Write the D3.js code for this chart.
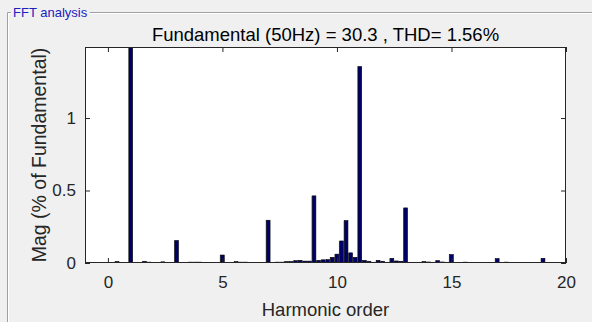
<!DOCTYPE html>
<html>
<head>
<meta charset="utf-8">
<script src="https://cdn.jsdelivr.net/npm/d3@7"></script>
<style>
  html, body { margin: 0; padding: 0; background: #f0f0f0; }
  svg { display: block; }
  text { font-family: "Liberation Sans", Arial, Helvetica, sans-serif; }
</style>
</head>
<body>
<svg id="chart" width="592" height="322"></svg>
<script>
// ---- data ----
const panelTitle = "FFT analysis";
const chartTitle = "Fundamental (50Hz) = 30.3 , THD= 1.56%";
const xLabel = "Harmonic order";
const yLabel = "Mag (% of Fundamental)";
const harmonicOrders = [
  0.0, 0.2, 0.4, 0.6, 0.8, 1.0, 1.2, 1.4, 1.6, 1.8,
  2.0, 2.2, 2.4, 2.6, 2.8, 3.0, 3.2, 3.4, 3.6, 3.8,
  4.0, 4.2, 4.4, 4.6, 4.8, 5.0, 5.2, 5.4, 5.6, 5.8,
  6.0, 6.2, 6.4, 6.6, 6.8, 7.0, 7.2, 7.4, 7.6, 7.8,
  8.0, 8.2, 8.4, 8.6, 8.8, 9.0, 9.2, 9.4, 9.6, 9.8,
  10.0, 10.2, 10.4, 10.6, 10.8, 11.0, 11.2, 11.4, 11.6, 11.8,
  12.0, 12.2, 12.4, 12.6, 12.8, 13.0, 13.2, 13.4, 13.6, 13.8,
  14.0, 14.2, 14.4, 14.6, 14.8, 15.0, 15.2, 15.4, 15.6, 15.8,
  16.0, 16.2, 16.4, 16.6, 16.8, 17.0, 17.2, 17.4, 17.6, 17.8,
  18.0, 18.2, 18.4, 18.6, 18.8, 19.0, 19.2, 19.4, 19.6, 19.8,
  20.0
];
const magnitudes = [
  0.000, 0.004, 0.010, 0.004, 0.002, 100, 0.003, 0.003, 0.012, 0.006,
  0.003, 0.003, 0.008, 0.004, 0.004, 0.155, 0.003, 0.004, 0.006, 0.006,
  0.006, 0.004, 0.004, 0.004, 0.004, 0.055, 0.002, 0.004, 0.009, 0.006,
  0.006, 0.004, 0.004, 0.004, 0.004, 0.295, 0.004, 0.006, 0.006, 0.010,
  0.010, 0.016, 0.018, 0.013, 0.013, 0.463, 0.018, 0.022, 0.023, 0.039,
  0.061, 0.152, 0.292, 0.070, 0.039, 1.355, 0.018, 0.012, 0.005, 0.018,
  0.012, 0.002, 0.032, 0.014, 0.012, 0.380, 0.005, 0.005, 0.005, 0.010,
  0.007, 0.005, 0.016, 0.007, 0.005, 0.058, 0.004, 0.004, 0.006, 0.004,
  0.004, 0.004, 0.004, 0.004, 0.004, 0.030, 0.004, 0.006, 0.004, 0.004,
  0.004, 0.004, 0.004, 0.004, 0.004, 0.032, 0.004, 0.004, 0.004, 0.001,
  0.000
];
const xTicks = [0, 5, 10, 15, 20];
const yTicks = [0, 0.5, 1];
const xDomain = [-1, 20];
const yDomain = [0, 1.49];

// ---- layout ----
const svg = d3.select("#chart");
const W = 592, H = 322;
const plot = { left: 85, right: 566, top: 47, bottom: 263 };

svg.append("rect").attr("width", W).attr("height", H).attr("fill", "#f0f0f0");

// panel border (etched)
const border = svg.append("g");
border.append("path")
  .attr("d", `M7.5,${H} V12.5 H${W}`)
  .attr("fill", "none").attr("stroke", "#a0a0a0").attr("stroke-width", 1);
border.append("path")
  .attr("d", `M8.5,${H} V13.5 H${W}`)
  .attr("fill", "none").attr("stroke", "#ffffff").attr("stroke-width", 1);
const pt = svg.append("text")
  .attr("x", 13).attr("y", 17)
  .attr("font-size", 13).attr("fill", "#2020c0")
  .text(panelTitle);
const bb = pt.node().getBBox();
svg.insert("rect", "text")
  .attr("x", bb.x - 2).attr("y", 8).attr("width", bb.width + 4).attr("height", 8)
  .attr("fill", "#f0f0f0");

const x = d3.scaleLinear().domain(xDomain).range([plot.left, plot.right]);
const y = d3.scaleLinear().domain(yDomain).range([plot.bottom, plot.top]);

// plot background
svg.append("rect")
  .attr("x", plot.left).attr("y", plot.top)
  .attr("width", plot.right - plot.left).attr("height", plot.bottom - plot.top)
  .attr("fill", "#ffffff");

svg.append("clipPath").attr("id", "clip")
  .append("rect")
  .attr("x", plot.left).attr("y", plot.top)
  .attr("width", plot.right - plot.left).attr("height", plot.bottom - plot.top);

// bars
const data = harmonicOrders.map((h, i) => ({ h, v: magnitudes[i] }));
const step = x(0.2) - x(0);
const bw = step * 0.8;
const bars = svg.append("g").attr("clip-path", "url(#clip)");
bars.selectAll("rect.shadow").data(data).join("rect")
  .attr("class", "shadow")
  .attr("x", d => x(d.h) - bw / 2 - 0.8)
  .attr("y", d => y(d.v))
  .attr("width", 1)
  .attr("height", d => Math.max(0, y(0) - y(d.v)))
  .attr("fill", "#9a9a9a");
bars.selectAll("rect.bar").data(data).join("rect")
  .attr("class", "bar")
  .attr("x", d => x(d.h) - bw / 2)
  .attr("y", d => y(d.v))
  .attr("width", bw)
  .attr("height", d => Math.max(0, y(0) - y(d.v)))
  .attr("fill", "#00006a")
  .attr("stroke", "#000000")
  .attr("stroke-width", 0.6);

// axes
const axisColor = "#262626";
const tickLen = 5;
const xb = d3.axisBottom(x).tickValues(xTicks).tickSizeInner(-tickLen).tickSizeOuter(0).tickPadding(13).tickFormat(d3.format("d"));
const xt = d3.axisTop(x).tickValues(xTicks).tickSizeInner(-tickLen).tickSizeOuter(0).tickFormat("");
const yl = d3.axisLeft(y).tickValues(yTicks).tickSizeInner(-tickLen).tickSizeOuter(0).tickPadding(9).tickFormat(d => d === 0 ? "0" : (d === 1 ? "1" : d3.format(".1f")(d)));
const yr = d3.axisRight(y).tickValues(yTicks).tickSizeInner(-tickLen).tickSizeOuter(0).tickFormat("");

function styleAxis(g) {
  g.select(".domain").remove();
  g.selectAll(".tick line").attr("stroke", axisColor);
  g.selectAll(".tick text").attr("fill", axisColor).attr("font-size", 17)
    .attr("font-family", '"Liberation Sans", Arial, Helvetica, sans-serif');
}
svg.append("g").attr("transform", `translate(0,${plot.bottom})`).call(xb).call(styleAxis);
svg.append("g").attr("transform", `translate(0,${plot.top})`).call(xt).call(styleAxis);
svg.append("g").attr("transform", `translate(${plot.left},0)`).call(yl).call(styleAxis);
svg.append("g").attr("transform", `translate(${plot.right},0)`).call(yr).call(styleAxis);

// box
svg.append("rect")
  .attr("x", plot.left + 0.5).attr("y", plot.top + 0.5)
  .attr("width", plot.right - plot.left - 1).attr("height", plot.bottom - plot.top - 1)
  .attr("fill", "none").attr("stroke", axisColor).attr("stroke-width", 1);

// titles
svg.append("text")
  .attr("x", (plot.left + plot.right) / 2).attr("y", 41)
  .attr("text-anchor", "middle").attr("font-size", 18.5).attr("fill", "#000")
  .text(chartTitle);
svg.append("text")
  .attr("x", (plot.left + plot.right) / 2).attr("y", 316)
  .attr("text-anchor", "middle").attr("font-size", 18.5).attr("fill", axisColor)
  .text(xLabel);
svg.append("text")
  .attr("transform", `translate(46,${(plot.top + plot.bottom) / 2}) rotate(-90)`)
  .attr("text-anchor", "middle").attr("font-size", 19.5).attr("fill", axisColor)
  .text(yLabel);
</script>
</body>
</html>
